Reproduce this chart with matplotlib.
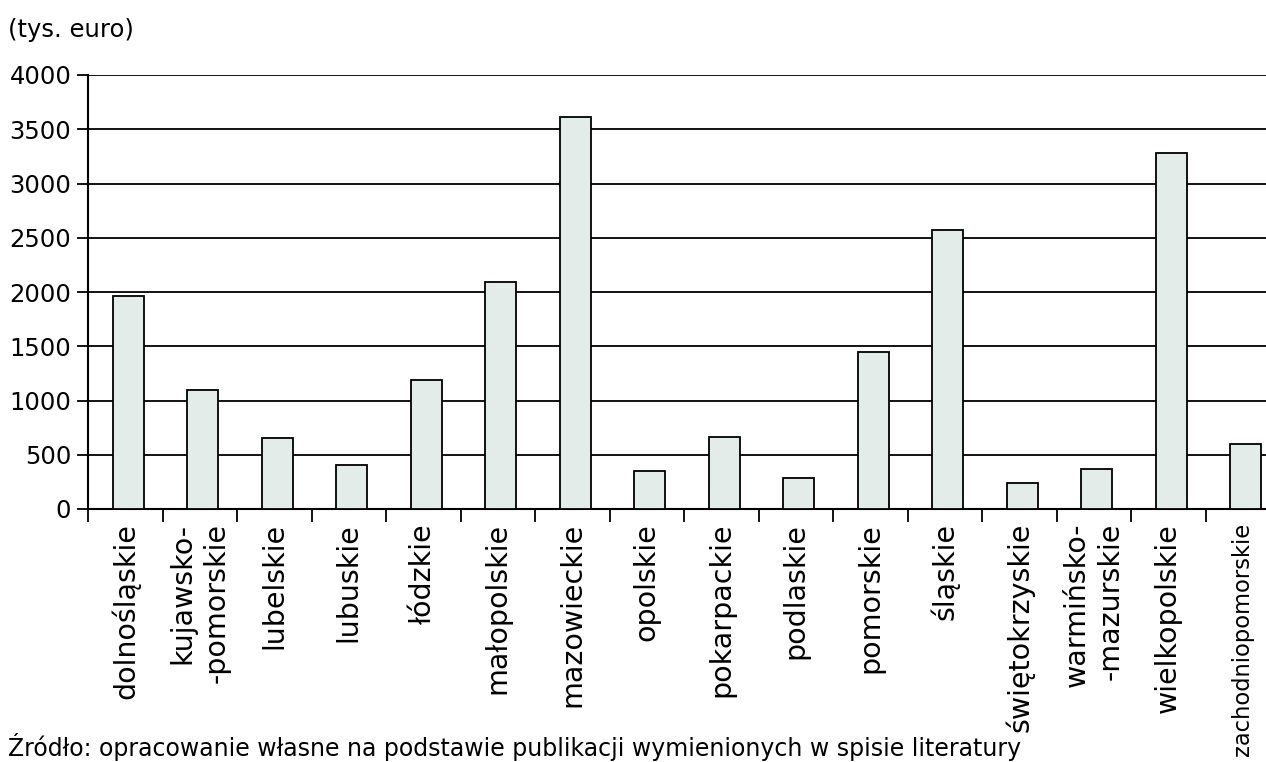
import matplotlib
matplotlib.use("Agg")
import matplotlib.pyplot as plt
import numpy as np

categories = ["dolnośląskie", "kujawsko-\n-pomorskie", "lubelskie", "lubuskie", "łódzkie",
              "małopolskie", "mazowieckie", "opolskie", "pokarpackie", "podlaskie",
              "pomorskie", "śląskie", "świętokrzyskie", "warmińsko-\n-mazurskie",
              "wielkopolskie", "zachodniopomorskie"]
values = [1960, 1100, 650, 410, 1190, 2090, 3610, 350, 660, 290, 1450, 2575, 240, 365, 3285, 600]
yticks = [0, 500, 1000, 1500, 2000, 2500, 3000, 3500, 4000]

plt.rcParams['font.family'] = ['DejaVu Sans']

W, H = 1266, 762
fig = plt.figure(figsize=(W / 100, H / 100), dpi=100)
left, right, top, bottom = 88, 1280, 75, 509
ax = fig.add_axes([left / W, 1 - bottom / H, (right - left) / W, (bottom - top) / H])

x = np.arange(len(categories)) + 0.5
ax.bar(x + 0.04, values, width=0.42, color="#E4ECEA", edgecolor="black", linewidth=1.3, zorder=3)

ax.set_xlim(0, len(categories))
ax.set_ylim(0, 4000)
ax.set_yticks(yticks)
ax.set_yticklabels([str(v) for v in yticks], fontsize=17.5)
ax.yaxis.grid(True, color="black", linewidth=1.3, zorder=0)
ax.set_axisbelow(True)

ax.set_xticks(x)
labels = ax.set_xticklabels(categories, rotation=90, fontsize=20.5, va="top", ha="center",
                            multialignment="right", linespacing=1.3)
labels[-1].set_fontsize(16.3)
ax.set_xticks(np.arange(len(categories) + 1), minor=True)
ax.tick_params(axis="x", which="major", length=0, pad=10)
ax.tick_params(axis="x", which="minor", length=9, width=1.3, color="black", direction="out")
ax.tick_params(axis="y", length=8, width=1.3, pad=4, direction="out")

for s in ["top", "right"]:
    ax.spines[s].set_visible(False)
ax.spines["left"].set_linewidth(1.5)
ax.spines["bottom"].set_linewidth(1.5)

fig.text(8 / W, 1 - 30 / H, "(tys. euro)", fontsize=17.5, va="center", ha="left")
fig.text(8 / W, 1 - 747 / H,
         "Źródło: opracowanie własne na podstawie publikacji wymienionych w spisie literatury",
         fontsize=17, va="center", ha="left")

fig.savefig("out.png", dpi=100)
